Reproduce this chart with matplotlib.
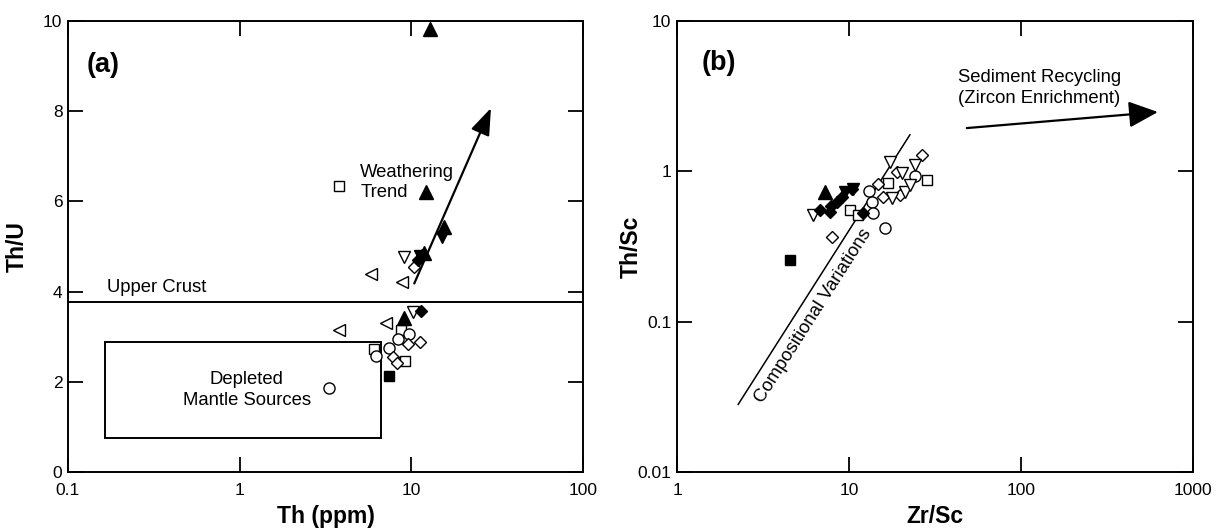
import numpy as np
import matplotlib.pyplot as plt
from matplotlib.patches import Rectangle
from matplotlib.ticker import NullLocator

plt.rcParams['font.family'] = ['Liberation Sans', 'DejaVu Sans']

# ---- (a) Th (ppm) vs Th/U ----
a_tri_filled_x = [12.9, 12.2, 15.6, 11.8, 9.1]
a_tri_filled_y = [9.83, 6.21, 5.43, 4.86, 3.41]
a_tridown_filled_x = [15.1, 11.3]
a_tridown_filled_y = [5.21, 4.78]
a_dia_filled_x = [11.6, 11.0, 11.4]
a_dia_filled_y = [4.81, 4.70, 3.58]
a_sq_filled_x = [7.38]
a_sq_filled_y = [2.13]
a_tridown_open_x = [9.1, 10.2]
a_tridown_open_y = [4.77, 3.55]
a_dia_open_x = [10.4, 11.2, 9.5, 7.85, 8.3]
a_dia_open_y = [4.55, 2.88, 2.83, 2.56, 2.41]
a_trileft_open_x = [5.83, 8.83, 7.13, 3.81]
a_trileft_open_y = [4.39, 4.21, 3.31, 3.15]
a_sq_open_x = [3.77, 8.7, 6.1, 9.2]
a_sq_open_y = [6.34, 3.15, 2.72, 2.46]
a_circ_open_x = [9.7, 8.4, 7.45, 6.2, 3.33]
a_circ_open_y = [3.05, 2.96, 2.74, 2.58, 1.87]

upper_crust_thu = 3.78
depleted_box_th = [0.164, 6.67]
depleted_box_thu = [0.76, 2.89]
weathering_start = (10.4, 4.18)
weathering_end = (29.1, 8.07)

# ---- (b) Zr/Sc vs Th/Sc ----
b_sq_filled_x = [4.53]
b_sq_filled_y = [0.256]
b_tri_filled_x = [7.25]
b_tri_filled_y = [0.733]
b_dia_filled_x = [6.78, 7.76, 7.9, 8.48, 9.1, 10.4, 12.1]
b_dia_filled_y = [0.553, 0.54, 0.59, 0.629, 0.68, 0.76, 0.526]
b_tridown_filled_x = [9.5, 10.5]
b_tridown_filled_y = [0.73, 0.76]
b_dia_open_x = [7.93, 14.8, 15.8, 18.9, 19.8, 26.5]
b_dia_open_y = [0.368, 0.82, 0.68, 0.995, 0.697, 1.28]
b_tridown_open_x = [6.2, 17.3, 17.7, 21.2, 22.7, 24.2, 20.2]
b_tridown_open_y = [0.513, 1.16, 0.66, 0.73, 0.81, 1.10, 0.97]
b_sq_open_x = [10.1, 11.3, 16.8, 28.3]
b_sq_open_y = [0.553, 0.513, 0.833, 0.877]
b_circ_open_x = [13.1, 13.6, 13.8, 16.2, 24.2]
b_circ_open_y = [0.745, 0.629, 0.526, 0.418, 0.93]

comp_line_x = [2.27, 22.6]
comp_line_y = [0.0282, 1.75]
recycling_start = (48.4, 1.94)
recycling_end = (625, 2.48)

a_xticks = [0.1, 1, 10, 100]
a_xticklabels = ['0.1', '1', '10', '100']
a_yticks = [0, 2, 4, 6, 8, 10]
b_xticks = [1, 10, 100, 1000]
b_xticklabels = ['1', '10', '100', '1000']
b_yticks = [0.01, 0.1, 1, 10]
b_yticklabels = ['0.01', '0.1', '1', '10']

NOTE_SIZE = 13.3


def pts(ax, x, y, marker, filled, ms):
    ax.plot(x, y, linestyle='none', marker=marker, ms=ms,
            mfc='black' if filled else 'white', mec='black', mew=1.0, zorder=3)


def style_axes(ax):
    for s in ax.spines.values():
        s.set_linewidth(1.4)
    ax.xaxis.set_minor_locator(NullLocator())
    ax.yaxis.set_minor_locator(NullLocator())
    ax.tick_params(which='major', direction='in', top=True, right=True,
                   length=11, width=1.3, labelsize=12.5)
    ax.tick_params(axis='x', pad=8)
    ax.tick_params(axis='y', pad=4)


fig = plt.figure(figsize=(12.19, 5.31), dpi=100)
ax1 = fig.add_axes([68 / 1219, 59 / 531, 515 / 1219, 451 / 531])
ax2 = fig.add_axes([677 / 1219, 59 / 531, 516 / 1219, 451 / 531])

# panel (a)
ax1.set_xscale('log')
ax1.set_xlim(0.1, 100)
ax1.set_ylim(0, 10)
style_axes(ax1)
ax1.set_xticks(a_xticks, a_xticklabels)
ax1.set_yticks(a_yticks, [str(v) for v in a_yticks])

ax1.axhline(upper_crust_thu, color='black', lw=1.4)
ax1.add_patch(Rectangle((depleted_box_th[0], depleted_box_thu[0]),
                        depleted_box_th[1] - depleted_box_th[0],
                        depleted_box_thu[1] - depleted_box_thu[0],
                        fill=False, ec='black', lw=1.4))
ax1.annotate('', xy=weathering_end, xytext=weathering_start,
             arrowprops=dict(arrowstyle='-|>,head_length=1.1,head_width=0.4',
                             mutation_scale=15, lw=1.6, color='black',
                             shrinkA=0, shrinkB=0))

pts(ax1, a_sq_open_x, a_sq_open_y, 's', False, 7.5)
pts(ax1, a_circ_open_x, a_circ_open_y, 'o', False, 8)
pts(ax1, a_dia_open_x, a_dia_open_y, 'D', False, 6.2)
pts(ax1, a_trileft_open_x, a_trileft_open_y, '<', False, 9)
pts(ax1, a_tridown_open_x, a_tridown_open_y, 'v', False, 9)
pts(ax1, a_sq_filled_x, a_sq_filled_y, 's', True, 7.5)
pts(ax1, a_dia_filled_x, a_dia_filled_y, 'D', True, 6.2)
pts(ax1, a_tridown_filled_x, a_tridown_filled_y, 'v', True, 9)
pts(ax1, a_tri_filled_x, a_tri_filled_y, '^', True, 9.5)

ax1.text(0.129, 9.02, '(a)', fontsize=19.5, fontweight='bold', va='center', ha='left')
ax1.text(0.169, 3.99, 'Upper Crust', fontsize=NOTE_SIZE, va='baseline', ha='left')
ax1.text(5.05, 6.42, 'Weathering\nTrend', fontsize=NOTE_SIZE, va='center',
         ha='left', linespacing=1.3)
ax1.text(1.1, 1.82, 'Depleted\nMantle Sources', fontsize=NOTE_SIZE, va='center',
         ha='center', linespacing=1.3)
ax1.set_xlabel('Th (ppm)', fontsize=16.5, fontweight='bold', labelpad=5)
ax1.set_ylabel('Th/U', fontsize=16.5, fontweight='bold', labelpad=10)

# panel (b)
ax2.set_xscale('log')
ax2.set_yscale('log')
ax2.set_xlim(1, 1000)
ax2.set_ylim(0.01, 10)
style_axes(ax2)
ax2.set_xticks(b_xticks, b_xticklabels)
ax2.set_yticks(b_yticks, b_yticklabels)

ax2.plot(comp_line_x, comp_line_y, color='black', lw=1.1)
ax2.annotate('', xy=recycling_end, xytext=recycling_start,
             arrowprops=dict(arrowstyle='-|>,head_length=1.0,head_width=0.45',
                             mutation_scale=18, lw=1.6, color='black',
                             shrinkA=0, shrinkB=0))

pts(ax2, b_sq_open_x, b_sq_open_y, 's', False, 7.5)
pts(ax2, b_circ_open_x, b_circ_open_y, 'o', False, 8)
pts(ax2, b_dia_open_x, b_dia_open_y, 'D', False, 6.2)
pts(ax2, b_tridown_open_x, b_tridown_open_y, 'v', False, 9)
pts(ax2, b_sq_filled_x, b_sq_filled_y, 's', True, 7.5)
pts(ax2, b_dia_filled_x, b_dia_filled_y, 'D', True, 6.2)
pts(ax2, b_tridown_filled_x, b_tridown_filled_y, 'v', True, 9)
pts(ax2, b_tri_filled_x, b_tri_filled_y, '^', True, 9.5)

# label along the compositional line, rotated to the line's screen angle
p0 = ax2.transData.transform((comp_line_x[0], comp_line_y[0]))
p1 = ax2.transData.transform((comp_line_x[1], comp_line_y[1]))
angle = np.degrees(np.arctan2(p1[1] - p0[1], p1[0] - p0[0]))
ax2.text(6.22, 0.11, 'Compositional Variations', fontsize=NOTE_SIZE, rotation=angle,
         rotation_mode='anchor', ha='center', va='center')

ax2.text(1.39, 5.25, '(b)', fontsize=19.5, fontweight='bold', va='center', ha='left')
ax2.text(43, 3.58, 'Sediment Recycling\n(Zircon Enrichment)', fontsize=NOTE_SIZE,
         va='center', ha='left', linespacing=1.25)
ax2.set_xlabel('Zr/Sc', fontsize=16.5, fontweight='bold', labelpad=5)
ax2.set_ylabel('Th/Sc', fontsize=16.5, fontweight='bold', labelpad=-4)

fig.savefig('out.png', dpi=100, facecolor='white')
